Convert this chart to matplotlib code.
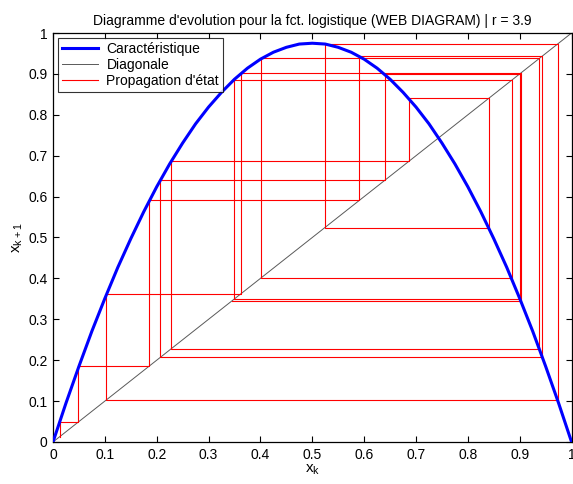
import matplotlib
matplotlib.use("Agg")
import matplotlib.pyplot as plt
import numpy as np

plt.rcParams['font.family'] = ['Liberation Sans', 'DejaVu Sans']

# characteristic curve (r = 3.9)
x_curve = [0, 0.025, 0.05, 0.075, 0.1, 0.125, 0.15, 0.175, 0.2, 0.225, 0.25,
           0.275, 0.3, 0.325, 0.35, 0.375, 0.4, 0.425, 0.45, 0.475, 0.5,
           0.525, 0.55, 0.575, 0.6, 0.625, 0.65, 0.675, 0.7, 0.725, 0.75,
           0.775, 0.8, 0.825, 0.85, 0.875, 0.9, 0.925, 0.95, 0.975, 1]
y_curve = [0, 0.095, 0.185, 0.271, 0.351, 0.427, 0.497, 0.563, 0.624, 0.680, 0.731,
           0.778, 0.819, 0.855, 0.887, 0.914, 0.936, 0.953, 0.965, 0.973, 0.975,
           0.973, 0.965, 0.953, 0.936, 0.914, 0.887, 0.855, 0.819, 0.778, 0.731,
           0.680, 0.624, 0.563, 0.497, 0.427, 0.351, 0.271, 0.185, 0.095, 0]

# successive states
orbit = [0.0127, 0.048, 0.186, 0.591, 0.943, 0.207, 0.640, 0.900, 0.349, 0.885,
         0.401, 0.938, 0.228, 0.686, 0.840, 0.524, 0.973, 0.102, 0.362, 0.902, 0.345]

diag = [0, 1]
xticks = [0, 0.1, 0.2, 0.3, 0.4, 0.5, 0.6, 0.7, 0.8, 0.9, 1]
ticklabels = ['0', '0.1', '0.2', '0.3', '0.4', '0.5', '0.6', '0.7', '0.8', '0.9', '1']

# staircase path: vertical to curve, horizontal to diagonal
wx = [orbit[0]]
wy = [orbit[0]]
for i in range(len(orbit) - 1):
    wx.append(orbit[i]); wy.append(orbit[i + 1])
    wx.append(orbit[i + 1]); wy.append(orbit[i + 1])

fig = plt.figure(figsize=(5.73, 4.84), dpi=100)
ax = fig.add_axes([0.0925, 0.0868, 0.905, 0.845])

ax.plot(x_curve, y_curve, color='#0000ff', lw=2.2, label='Caractéristique', zorder=3)
ax.plot(diag, diag, color='0.35', lw=0.7, label='Diagonale', zorder=2)
ax.plot(wx, wy, color='#ff0000', lw=0.8, label="Propagation d'état", zorder=2)

ax.set_xlim(0, 1)
ax.set_ylim(0, 1)
ax.set_xticks(xticks)
ax.set_xticklabels(ticklabels)
ax.set_yticks(xticks)
ax.set_yticklabels(ticklabels)
ax.tick_params(direction='in', top=True, right=True, length=4, width=0.8,
               labelsize=10, pad=4)
for s in ax.spines.values():
    s.set_linewidth(0.9)

ax.set_xlabel('$\\mathregular{x_k}$', fontsize=11, labelpad=1)
ax.set_ylabel('$\\mathregular{x_{k+1}}$', fontsize=11, labelpad=2)
ax.set_title("Diagramme d'evolution pour la fct. logistique (WEB DIAGRAM) | r = 3.9",
             fontsize=10, pad=6)

leg = ax.legend(loc='upper left', fontsize=10, frameon=True, fancybox=False,
                edgecolor='black', borderaxespad=0.35, handlelength=2.6,
                labelspacing=0.15, borderpad=0.3, handletextpad=0.6)
leg.get_frame().set_linewidth(0.8)

fig.savefig('out.png', dpi=100)
